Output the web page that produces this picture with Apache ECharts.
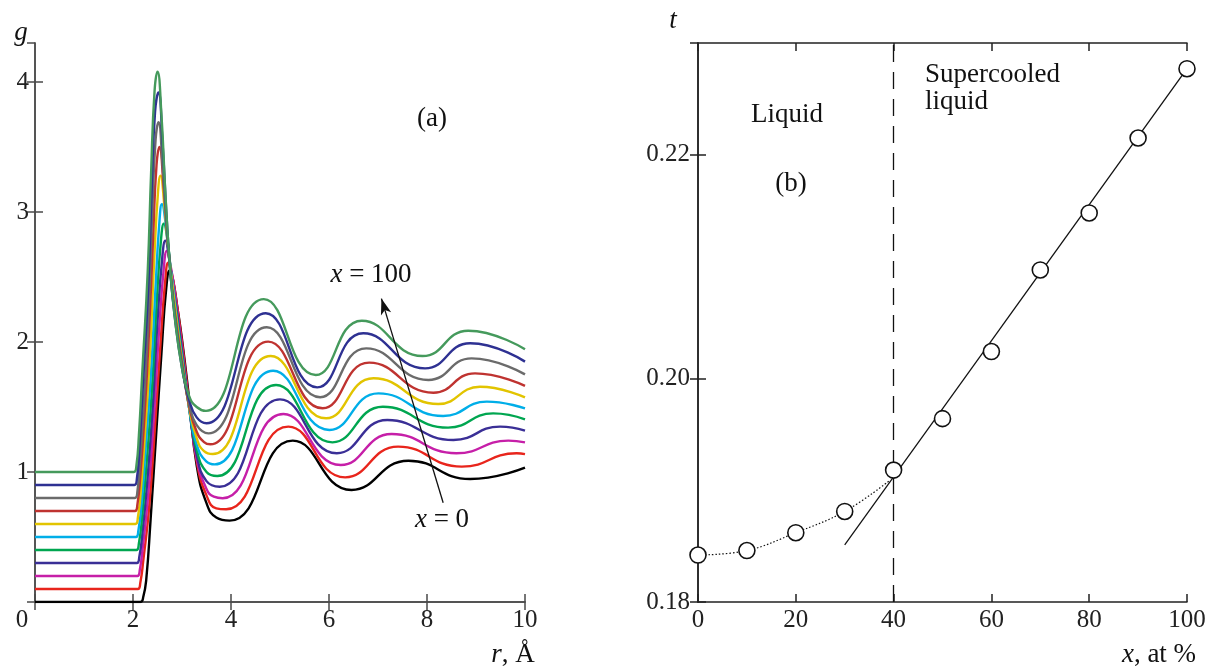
<!DOCTYPE html>
<html><head><meta charset="utf-8">
<script src="https://cdn.jsdelivr.net/npm/echarts@6/dist/echarts.min.js"></script>
<style>html,body{margin:0;padding:0;background:#fff}#c{width:1209px;height:669px}</style>
</head><body><div id="c"></div>
<script>
// ---- Panel (a): g(r) curves, offset by 0.1 each (x = 0 ... 100) ----
const g_x0 = [[0,0],[2.15,0],[2.21,0.04],[2.27,0.17],[2.36,0.64],[2.47,1.275],[2.58,1.91],[2.68,2.42],[2.75,2.55],[2.82,2.47],[2.9,2.28],[3.0,2.02],[3.15,1.55],[3.3,1.05],[3.5,0.76],[3.7,0.65],[3.97,0.626],[5.26,1.241],[6.46,0.862],[7.62,1.087],[8.88,0.946],[10,1.033]];
const g_x10 = [[0,0.1],[2.10,0.1],[2.15,0.15],[2.21,0.32],[2.33,0.73],[2.45,1.355],[2.56,1.98],[2.66,2.48],[2.72,2.61],[2.79,2.53],[2.86,2.38],[3.0,2.0],[3.15,1.52],[3.3,1.08],[3.5,0.82],[3.7,0.72],[3.90,0.713],[5.17,1.349],[6.33,0.959],[7.41,1.195],[8.71,1.041],[9.83,1.144],[10,1.138]];
const g_x20 = [[0,0.2],[2.09,0.2],[2.14,0.25],[2.20,0.42],[2.31,0.825],[2.43,1.45],[2.53,2.075],[2.63,2.575],[2.69,2.70],[2.76,2.60],[2.83,2.44],[2.9,2.25],[3.0,1.96],[3.15,1.50],[3.3,1.10],[3.5,0.87],[3.65,0.81],[3.83,0.798],[5.07,1.446],[6.24,1.054],[7.28,1.292],[8.60,1.144],[9.66,1.241],[10,1.228]];
const g_x30 = [[0,0.3],[2.08,0.3],[2.13,0.35],[2.19,0.52],[2.29,0.92],[2.41,1.54],[2.50,2.16],[2.60,2.66],[2.66,2.78],[2.73,2.66],[2.8,2.47],[2.88,2.27],[3.0,1.93],[3.15,1.48],[3.3,1.13],[3.5,0.93],[3.77,0.887],[5.00,1.559],[6.16,1.144],[7.19,1.400],[8.54,1.246],[9.49,1.349],[10,1.318]];
const g_x40 = [[0,0.4],[2.07,0.4],[2.12,0.45],[2.18,0.63],[2.27,1.03],[2.39,1.655],[2.48,2.28],[2.57,2.78],[2.63,2.91],[2.71,2.76],[2.78,2.52],[2.85,2.32],[3.0,1.90],[3.15,1.48],[3.3,1.17],[3.5,1.00],[3.72,0.969],[4.92,1.669],[6.07,1.228],[7.10,1.502],[8.43,1.341],[9.35,1.451],[10,1.405]];
const g_x50 = [[0,0.5],[2.06,0.5],[2.11,0.55],[2.17,0.74],[2.25,1.14],[2.37,1.78],[2.46,2.42],[2.54,2.93],[2.59,3.06],[2.67,2.9],[2.75,2.62],[2.82,2.42],[2.9,2.16],[3.0,1.88],[3.15,1.48],[3.3,1.21],[3.5,1.08],[3.67,1.059],[4.86,1.779],[6.01,1.323],[7.01,1.605],[8.33,1.431],[9.22,1.541],[10,1.49]];
const g_x60 = [[0,0.6],[2.05,0.6],[2.10,0.65],[2.16,0.86],[2.24,1.27],[2.35,1.94],[2.43,2.61],[2.51,3.15],[2.56,3.28],[2.64,3.05],[2.72,2.72],[2.8,2.45],[2.9,2.14],[3.0,1.86],[3.15,1.49],[3.3,1.26],[3.45,1.16],[3.63,1.138],[4.81,1.892],[5.94,1.413],[6.91,1.721],[8.23,1.523],[9.08,1.656],[10,1.574]];
const g_x70 = [[0,0.7],[2.04,0.7],[2.09,0.75],[2.15,0.97],[2.23,1.40],[2.33,2.10],[2.41,2.80],[2.48,3.36],[2.54,3.50],[2.62,3.22],[2.7,2.82],[2.78,2.48],[2.85,2.24],[3.0,1.84],[3.15,1.50],[3.3,1.31],[3.45,1.23],[3.58,1.213],[4.76,2.003],[5.87,1.49],[6.82,1.841],[8.13,1.61],[8.98,1.759],[10,1.662]];
const g_x80 = [[0,0.8],[2.04,0.8],[2.09,0.85],[2.14,1.07],[2.22,1.52],[2.32,2.245],[2.39,2.97],[2.46,3.55],[2.52,3.69],[2.6,3.38],[2.68,2.92],[2.77,2.5],[2.85,2.22],[3.0,1.82],[3.15,1.52],[3.3,1.36],[3.54,1.297],[4.73,2.113],[5.82,1.575],[6.76,1.951],[8.03,1.708],[8.91,1.874],[10,1.751]];
const g_x90 = [[0,0.9],[2.03,0.9],[2.08,0.95],[2.13,1.17],[2.20,1.655],[2.31,2.41],[2.38,3.16],[2.45,3.77],[2.52,3.92],[2.6,3.55],[2.68,3.0],[2.76,2.55],[2.85,2.2],[3.0,1.8],[3.15,1.55],[3.3,1.42],[3.50,1.375],[4.71,2.221],[5.76,1.651],[6.70,2.067],[7.96,1.797],[8.88,1.99],[10,1.849]];
const g_x100 = [[0,1.0],[2.02,1.0],[2.07,1.05],[2.12,1.28],[2.19,1.77],[2.30,2.54],[2.37,3.31],[2.44,3.93],[2.50,4.08],[2.58,3.75],[2.66,3.15],[2.75,2.6],[2.85,2.2],[3.0,1.8],[3.15,1.58],[3.3,1.5],[3.49,1.47],[4.67,2.33],[5.73,1.746],[6.67,2.164],[7.91,1.892],[8.84,2.087],[10,1.944]];
const curveColors = ['#000000','#e8251c','#c61fa8','#3a2f96','#00a650','#00aee8','#e2c400','#bf3330','#6b6b6b','#2e3192','#459a5c'];
const curveNames = ['x = 0','x = 10','x = 20','x = 30','x = 40','x = 50','x = 60','x = 70','x = 80','x = 90','x = 100'];
const arrowFrom = [8.33, 0.763];
const arrowTo = [7.07, 2.334];

// ---- Panel (b): t vs x ----
const tX = [0,10,20,30,40,50,60,70,80,90,100];
const tVal = [0.1842,0.1846,0.1862,0.1881,0.1918,0.1964,0.2024,0.2097,0.2148,0.2215,0.2277];
const fitLine = [[30,0.1851],[100,0.2277]];
const liquidCurve = [[0,0.1842],[10,0.1846],[20,0.1862],[30,0.1881],[39,0.1908]];
const transitionX = 40;

const FONT = '"Liberation Serif", "Times New Roman", serif';
const TICK_FS = 25, ANN_FS = 27;
const chart = echarts.init(document.getElementById('c'), null, {renderer:'canvas'});
const curves = [g_x0,g_x10,g_x20,g_x30,g_x40,g_x50,g_x60,g_x70,g_x80,g_x90,g_x100];

function axisBase(color){
  return {
    axisLine:{show:true, lineStyle:{color:color, width:1.5}},
    axisTick:{show:true, inside:true, length:8, lineStyle:{color:color, width:1.5}},
    splitLine:{show:false},
    axisLabel:{show:false}
  };
}
const labelStyle = {color:'#222', fontFamily:FONT, fontSize:TICK_FS};

const series = curves.map((d,i)=>({
  type:'line', name:curveNames[i], xAxisIndex:0, yAxisIndex:0, data:d,
  showSymbol:false, smooth:0.5, lineStyle:{color:curveColors[i], width:2.4},
  silent:true
}));
series.push({
  type:'line', xAxisIndex:0, yAxisIndex:0, data:[], silent:true,
  markLine:{silent:true, symbol:['none','arrow'], symbolSize:[8,16], animation:false,
    lineStyle:{color:'#111', width:1.3, type:'solid'}, label:{show:false},
    data:[[{coord:arrowFrom},{coord:arrowTo}]]}
});
series.push({
  type:'line', xAxisIndex:2, yAxisIndex:2, data:liquidCurve, showSymbol:false, smooth:0.4,
  lineStyle:{color:'#111', width:1.2, type:[1.5,2]}, silent:true
});
series.push({
  type:'line', xAxisIndex:2, yAxisIndex:2, data:fitLine, showSymbol:false,
  lineStyle:{color:'#111', width:1.3}, silent:true,
  markLine:{silent:true, symbol:['none','none'], animation:false, label:{show:false},
    lineStyle:{color:'#111', width:1.3, type:[17,10]}, data:[{xAxis:transitionX}]}
});
series.push({
  type:'scatter', xAxisIndex:2, yAxisIndex:2, data:tX.map((x,i)=>[x,tVal[i]]),
  symbol:'circle', symbolSize:16, z:5, silent:true,
  itemStyle:{color:'#fff', borderColor:'#111', borderWidth:1.6, opacity:1}
});

function txt(x,y,text,opt){
  opt = opt || {};
  const fs = opt.fs || ANN_FS;
  return {type:'text', x:x, y:y, silent:true, z:100, style:{
    text:text, fill:'#111', fontFamily:FONT, fontSize:fs,
    fontStyle:opt.italic?'italic':'normal',
    align:opt.align||'center', verticalAlign:'middle',
    rich:{i:{fontStyle:'italic', fontFamily:FONT, fontSize:fs, fill:'#111'},
          n:{fontFamily:FONT, fontSize:fs, fill:'#111'}}
  }};
}

chart.setOption({
  animation:false,
  backgroundColor:'#fff',
  grid:[
    {left:35, top:43, width:490, height:559},
    {left:698, top:43, width:489, height:559}
  ],
  xAxis:[
    Object.assign(axisBase('#4a4a4a'), {type:'value', gridIndex:0, position:'bottom', min:0, max:10, interval:2,
      axisLabel:Object.assign({show:true, margin:6, formatter:v=> v===0 ? '{z|0}' : String(v),
        rich:{z:{padding:[0,26,0,0], fontFamily:FONT, fontSize:TICK_FS, color:'#222'}}}, labelStyle)}),
    Object.assign(axisBase('#4a4a4a'), {type:'value', gridIndex:0, position:'top', min:0, max:10, interval:2}),
    Object.assign(axisBase('#222'), {type:'value', gridIndex:1, position:'bottom', min:0, max:100, interval:20,
      axisLabel:Object.assign({show:true, margin:6}, labelStyle)}),
    Object.assign(axisBase('#222'), {type:'value', gridIndex:1, position:'top', min:0, max:100, interval:20})
  ],
  yAxis:[
    Object.assign(axisBase('#4a4a4a'), {type:'value', gridIndex:0, position:'left', min:0, max:4.3, interval:1,
      axisLabel:Object.assign({show:true, margin:6, showMaxLabel:false,
        formatter:v=> (v===0 || v%1!==0) ? '' : String(v)}, labelStyle)}),
    Object.assign(axisBase('#4a4a4a'), {type:'value', gridIndex:0, position:'right', min:0, max:4.3, interval:1}),
    Object.assign(axisBase('#222'), {type:'value', gridIndex:1, position:'left', min:0.18, max:0.23, interval:0.02,
      axisLabel:Object.assign({show:true, margin:8, showMaxLabel:false,
        formatter:v=> Math.abs(v-0.23)<1e-6 ? '' : v.toFixed(2)}, labelStyle)}),
    Object.assign(axisBase('#222'), {type:'value', gridIndex:1, position:'right', min:0.18, max:0.23, interval:0.02})
  ],
  series:series,
  graphic:[
    txt(21,33,'g',{italic:true}),
    txt(432,119,'(a)'),
    txt(371,275,'{i|x}{n| = 100}'),
    txt(442,520,'{i|x}{n| = 0}'),
    txt(513,655,'{i|r}{n|, Å}'),
    txt(673,21,'t',{italic:true}),
    txt(787,115,'Liquid'),
    txt(791,184,'(b)'),
    txt(925,75,'Supercooled',{align:'left'}),
    txt(925,102,'liquid',{align:'left'}),
    txt(1159,655,'{i|x}{n|, at %}')
  ]
});
</script></body></html>
